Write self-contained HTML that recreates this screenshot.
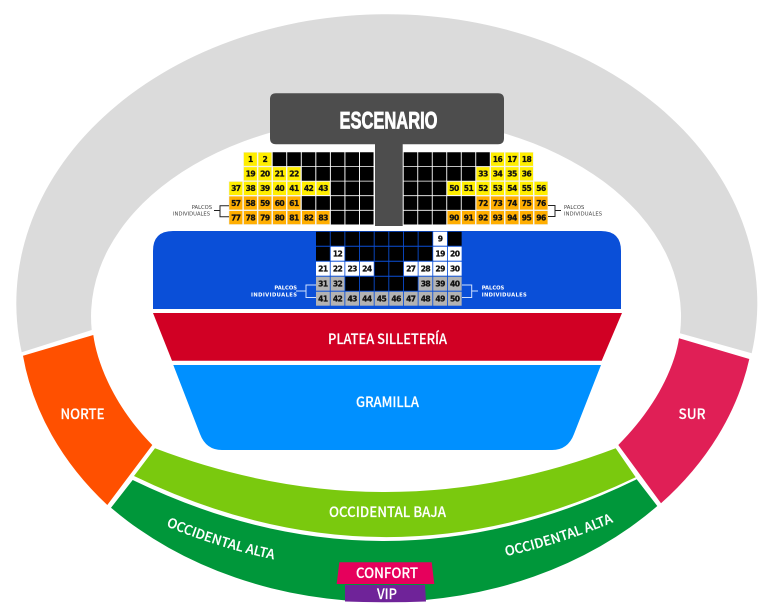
<!DOCTYPE html>
<html><head><meta charset="utf-8"><style>
html,body{margin:0;padding:0;background:#fff}
svg{display:block}
.n{font:bold 7.6px "DejaVu Sans",sans-serif;letter-spacing:-.55px;text-anchor:middle;fill:#111;stroke:#111;stroke-width:.25}
.l{font-family:"Noto Sans CJK JP","Liberation Sans",sans-serif;font-weight:500;fill:#fff;font-size:14px;stroke:#fff;stroke-width:.15}
.c{font-size:13.2px}
.p{font:5.2px "DejaVu Sans",sans-serif;fill:#444}
.w{font:bold 5.2px "DejaVu Sans",sans-serif;fill:#fff}
.y rect{fill:#ffee00;stroke:#eee;stroke-width:.5}
.o rect{fill:#ffae00;stroke:#eee;stroke-width:.5}
.g rect{fill:#b3b3b3}
.f rect{fill:#fff}
</style></head><body>
<svg width="768" height="613" viewBox="0 0 768 613" xmlns="http://www.w3.org/2000/svg">
<rect width="768" height="613" fill="#fff"/>
<path d="M21.7 352.3A370.5 289 0 1 1 751.7 353.3L680 333.3A295 200 0 1 0 91.7 330Z" fill="#dbdbdb"/>
<path d="M23 355.7L93.3 335C97 362 113 405 152.3 445L107.3 505A371 294 0 0 1 23 355.7Z" fill="#ff5000"/>
<path d="M679 338.3L749.3 359A371 294 0 0 1 661 503.3L618.3 445C658 405 675 365 679 338.3Z" fill="#e01f56"/>
<path d="M155 448.3L134 476Q385 597.5 635.7 477.3L615.7 448.3Q385 535.7 155 448.3Z" fill="#7ac90e"/>
<path d="M132.7 480L111 507.7A371 294 0 0 0 657.3 506L636.7 479.3Q385 602.3 132.7 480Z" fill="#00973a"/>
<path d="M339.3 562.3H431.7L434.3 584H336.7Z" fill="#e6005c"/>
<path d="M345 585H425L426 601.5Q385 603 345 601.5Z" fill="#6f2399"/>
<path d="M153 313H622L601.7 360.7H172Z" fill="#d10024"/>
<path d="M173.3 365H601L574 434Q568 450 552 450H222Q206 450 200 434Z" fill="#0090ff"/>
<path d="M153 251Q153 231 173 231H601Q621 231 621 251V309H153Z" fill="#0a4fd8"/>
<path d="M276 93.3H498Q504 93.3 504 99.3V138.3Q504 144.3 498 144.3H402.7V226H375V144.3H276Q270 144.3 270 138.3V99.3Q270 93.3 276 93.3Z" fill="#4d4d4d"/>
<text x="388.5" y="128.3" font-family="Liberation Sans,sans-serif" font-weight="bold" font-size="24.5" fill="#fff" stroke="#fff" stroke-width=".8" text-anchor="middle" textLength="98" lengthAdjust="spacingAndGlyphs">ESCENARIO</text>

<path fill="#000" d="M272.65 152.3h13.6v13.8h-13.6zM287.2 152.3h13.6v13.8h-13.6zM301.75 152.3h13.6v13.8h-13.6zM316.3 152.3h13.6v13.8h-13.6zM330.85 152.3h13.6v13.8h-13.6zM345.4 152.3h13.6v13.8h-13.6zM359.95 152.3h13.6v13.8h-13.6z
M301.75 166.9h13.6v13.8h-13.6zM316.3 166.9h13.6v13.8h-13.6zM330.85 166.9h13.6v13.8h-13.6zM345.4 166.9h13.6v13.8h-13.6zM359.95 166.9h13.6v13.8h-13.6z
M330.85 181.5h13.6v13.8h-13.6zM345.4 181.5h13.6v13.8h-13.6zM359.95 181.5h13.6v13.8h-13.6z
M301.75 196.1h13.6v13.8h-13.6zM316.3 196.1h13.6v13.8h-13.6zM330.85 196.1h13.6v13.8h-13.6zM345.4 196.1h13.6v13.8h-13.6zM359.95 196.1h13.6v13.8h-13.6z
M330.85 210.7h13.6v13.8h-13.6zM345.4 210.7h13.6v13.8h-13.6zM359.95 210.7h13.6v13.8h-13.6z
M403.7 152.3h13.6v13.8h-13.6zM418.2 152.3h13.6v13.8h-13.6zM432.7 152.3h13.6v13.8h-13.6zM447.2 152.3h13.6v13.8h-13.6zM461.7 152.3h13.6v13.8h-13.6zM476.2 152.3h13.6v13.8h-13.6z
M403.7 166.9h13.6v13.8h-13.6zM418.2 166.9h13.6v13.8h-13.6zM432.7 166.9h13.6v13.8h-13.6zM447.2 166.9h13.6v13.8h-13.6zM461.7 166.9h13.6v13.8h-13.6z
M403.7 181.5h13.6v13.8h-13.6zM418.2 181.5h13.6v13.8h-13.6zM432.7 181.5h13.6v13.8h-13.6z
M403.7 196.1h13.6v13.8h-13.6zM418.2 196.1h13.6v13.8h-13.6zM432.7 196.1h13.6v13.8h-13.6zM447.2 196.1h13.6v13.8h-13.6zM461.7 196.1h13.6v13.8h-13.6z
M403.7 210.7h13.6v13.8h-13.6zM418.2 210.7h13.6v13.8h-13.6zM432.7 210.7h13.6v13.8h-13.6z
M316 231.7h13.8v14h-13.8zM330.65 231.7h13.8v14h-13.8zM345.3 231.7h13.8v14h-13.8zM359.95 231.7h13.8v14h-13.8zM374.6 231.7h13.8v14h-13.8zM389.25 231.7h13.8v14h-13.8zM403.9 231.7h13.8v14h-13.8zM418.55 231.7h13.8v14h-13.8zM447.85 231.7h13.8v14h-13.8z
M316 246.7h13.8v14h-13.8zM345.3 246.7h13.8v14h-13.8zM359.95 246.7h13.8v14h-13.8zM374.6 246.7h13.8v14h-13.8zM389.25 246.7h13.8v14h-13.8zM403.9 246.7h13.8v14h-13.8zM418.55 246.7h13.8v14h-13.8z
M374.6 261.7h13.8v14h-13.8zM389.25 261.7h13.8v14h-13.8z
M345.3 276.7h13.8v14h-13.8zM359.95 276.7h13.8v14h-13.8zM374.6 276.7h13.8v14h-13.8zM389.25 276.7h13.8v14h-13.8zM403.9 276.7h13.8v14h-13.8z"/>

<g class="y">
<rect x="243.55" y="152.3" width="13.6" height="13.8"/><rect x="258.1" y="152.3" width="13.6" height="13.8"/>
<rect x="243.55" y="166.9" width="13.6" height="13.8"/><rect x="258.1" y="166.9" width="13.6" height="13.8"/><rect x="272.65" y="166.9" width="13.6" height="13.8"/><rect x="287.2" y="166.9" width="13.6" height="13.8"/>
<rect x="229" y="181.5" width="13.6" height="13.8"/><rect x="243.55" y="181.5" width="13.6" height="13.8"/><rect x="258.1" y="181.5" width="13.6" height="13.8"/><rect x="272.65" y="181.5" width="13.6" height="13.8"/><rect x="287.2" y="181.5" width="13.6" height="13.8"/><rect x="301.75" y="181.5" width="13.6" height="13.8"/><rect x="316.3" y="181.5" width="13.6" height="13.8"/>
<rect x="490.7" y="152.3" width="13.6" height="13.8"/><rect x="505.2" y="152.3" width="13.6" height="13.8"/><rect x="519.7" y="152.3" width="13.6" height="13.8"/>
<rect x="476.2" y="166.9" width="13.6" height="13.8"/><rect x="490.7" y="166.9" width="13.6" height="13.8"/><rect x="505.2" y="166.9" width="13.6" height="13.8"/><rect x="519.7" y="166.9" width="13.6" height="13.8"/>
<rect x="447.2" y="181.5" width="13.6" height="13.8"/><rect x="461.7" y="181.5" width="13.6" height="13.8"/><rect x="476.2" y="181.5" width="13.6" height="13.8"/><rect x="490.7" y="181.5" width="13.6" height="13.8"/><rect x="505.2" y="181.5" width="13.6" height="13.8"/><rect x="519.7" y="181.5" width="13.6" height="13.8"/><rect x="534.2" y="181.5" width="13.6" height="13.8"/>
</g>
<g class="o">
<rect x="229" y="196.1" width="13.6" height="13.8"/><rect x="243.55" y="196.1" width="13.6" height="13.8"/><rect x="258.1" y="196.1" width="13.6" height="13.8"/><rect x="272.65" y="196.1" width="13.6" height="13.8"/><rect x="287.2" y="196.1" width="13.6" height="13.8"/>
<rect x="229" y="210.7" width="13.6" height="13.8"/><rect x="243.55" y="210.7" width="13.6" height="13.8"/><rect x="258.1" y="210.7" width="13.6" height="13.8"/><rect x="272.65" y="210.7" width="13.6" height="13.8"/><rect x="287.2" y="210.7" width="13.6" height="13.8"/><rect x="301.75" y="210.7" width="13.6" height="13.8"/><rect x="316.3" y="210.7" width="13.6" height="13.8"/>
<rect x="476.2" y="196.1" width="13.6" height="13.8"/><rect x="490.7" y="196.1" width="13.6" height="13.8"/><rect x="505.2" y="196.1" width="13.6" height="13.8"/><rect x="519.7" y="196.1" width="13.6" height="13.8"/><rect x="534.2" y="196.1" width="13.6" height="13.8"/>
<rect x="447.2" y="210.7" width="13.6" height="13.8"/><rect x="461.7" y="210.7" width="13.6" height="13.8"/><rect x="476.2" y="210.7" width="13.6" height="13.8"/><rect x="490.7" y="210.7" width="13.6" height="13.8"/><rect x="505.2" y="210.7" width="13.6" height="13.8"/><rect x="519.7" y="210.7" width="13.6" height="13.8"/><rect x="534.2" y="210.7" width="13.6" height="13.8"/>
</g>
<g class="f">
<rect x="433.2" y="231.7" width="13.8" height="14"/>
<rect x="330.65" y="246.7" width="13.8" height="14"/><rect x="433.2" y="246.7" width="13.8" height="14"/><rect x="447.85" y="246.7" width="13.8" height="14"/>
<rect x="316" y="261.7" width="13.8" height="14"/><rect x="330.65" y="261.7" width="13.8" height="14"/><rect x="345.3" y="261.7" width="13.8" height="14"/><rect x="359.95" y="261.7" width="13.8" height="14"/><rect x="403.9" y="261.7" width="13.8" height="14"/><rect x="418.55" y="261.7" width="13.8" height="14"/><rect x="433.2" y="261.7" width="13.8" height="14"/><rect x="447.85" y="261.7" width="13.8" height="14"/>
</g>
<g class="g">
<rect x="316" y="276.7" width="13.8" height="14"/><rect x="330.65" y="276.7" width="13.8" height="14"/><rect x="418.55" y="276.7" width="13.8" height="14"/><rect x="433.2" y="276.7" width="13.8" height="14"/><rect x="447.85" y="276.7" width="13.8" height="14"/>
<rect x="316" y="291.7" width="13.8" height="14"/><rect x="330.65" y="291.7" width="13.8" height="14"/><rect x="345.3" y="291.7" width="13.8" height="14"/><rect x="359.95" y="291.7" width="13.8" height="14"/><rect x="374.6" y="291.7" width="13.8" height="14"/><rect x="389.25" y="291.7" width="13.8" height="14"/><rect x="403.9" y="291.7" width="13.8" height="14"/><rect x="418.55" y="291.7" width="13.8" height="14"/><rect x="433.2" y="291.7" width="13.8" height="14"/><rect x="447.85" y="291.7" width="13.8" height="14"/>
</g>

<g class="n">
<text x="250.35" y="162">1</text><text x="264.9" y="162">2</text><text x="497.5" y="162">16</text><text x="512" y="162">17</text><text x="526.5" y="162">18</text>
<text x="250.35" y="176.6">19</text><text x="264.9" y="176.6">20</text><text x="279.45" y="176.6">21</text><text x="294" y="176.6">22</text><text x="483" y="176.6">33</text><text x="497.5" y="176.6">34</text><text x="512" y="176.6">35</text><text x="526.5" y="176.6">36</text>
<text x="235.8" y="191.2">37</text><text x="250.35" y="191.2">38</text><text x="264.9" y="191.2">39</text><text x="279.45" y="191.2">40</text><text x="294" y="191.2">41</text><text x="308.55" y="191.2">42</text><text x="323.1" y="191.2">43</text><text x="454" y="191.2">50</text><text x="468.5" y="191.2">51</text><text x="483" y="191.2">52</text><text x="497.5" y="191.2">53</text><text x="512" y="191.2">54</text><text x="526.5" y="191.2">55</text><text x="541" y="191.2">56</text>
<text x="235.8" y="205.8">57</text><text x="250.35" y="205.8">58</text><text x="264.9" y="205.8">59</text><text x="279.45" y="205.8">60</text><text x="294" y="205.8">61</text><text x="483" y="205.8">72</text><text x="497.5" y="205.8">73</text><text x="512" y="205.8">74</text><text x="526.5" y="205.8">75</text><text x="541" y="205.8">76</text>
<text x="235.8" y="220.4">77</text><text x="250.35" y="220.4">78</text><text x="264.9" y="220.4">79</text><text x="279.45" y="220.4">80</text><text x="294" y="220.4">81</text><text x="308.55" y="220.4">82</text><text x="323.1" y="220.4">83</text><text x="454" y="220.4">90</text><text x="468.5" y="220.4">91</text><text x="483" y="220.4">92</text><text x="497.5" y="220.4">93</text><text x="512" y="220.4">94</text><text x="526.5" y="220.4">95</text><text x="541" y="220.4">96</text>
<text x="440.1" y="241.5">9</text>
<text x="337.55" y="256.5">12</text><text x="440.1" y="256.5">19</text><text x="454.75" y="256.5">20</text>
<text x="322.9" y="271.5">21</text><text x="337.55" y="271.5">22</text><text x="352.2" y="271.5">23</text><text x="366.85" y="271.5">24</text><text x="410.8" y="271.5">27</text><text x="425.45" y="271.5">28</text><text x="440.1" y="271.5">29</text><text x="454.75" y="271.5">30</text>
<text x="322.9" y="286.5">31</text><text x="337.55" y="286.5">32</text><text x="425.45" y="286.5">38</text><text x="440.1" y="286.5">39</text><text x="454.75" y="286.5">40</text>
<text x="322.9" y="301.5">41</text><text x="337.55" y="301.5">42</text><text x="352.2" y="301.5">43</text><text x="366.85" y="301.5">44</text><text x="381.5" y="301.5">45</text><text x="396.15" y="301.5">46</text><text x="410.8" y="301.5">47</text><text x="425.45" y="301.5">48</text><text x="440.1" y="301.5">49</text><text x="454.75" y="301.5">50</text>
</g>

<path d="M229 205.7H220V216.7H229M214 210.5H220M548 205.5H555V216.5H548M555 210.5H561" fill="none" stroke="#222" stroke-width="1"/>
<path d="M316 285H306V297.5H316M296 291H306M462 285H471.7V297.5H462M471.7 291H478" fill="none" stroke="#cfe0ff" stroke-width="1"/>
<text class="p" x="212" y="209" text-anchor="end">PALCOS</text>
<text class="p" x="210" y="215.5" text-anchor="end" textLength="37">INDIVIDUALES</text>
<text class="p" x="564" y="209">PALCOS</text>
<text class="p" x="564" y="215.5" textLength="38">INDIVIDUALES</text>
<text class="w" x="297" y="289.7" text-anchor="end">PALCOS</text>
<text class="w" x="297" y="296.7" text-anchor="end" textLength="46">INDIVIDUALES</text>
<text class="w" x="481.7" y="289.7">PALCOS</text>
<text class="w" x="481.7" y="296.7" textLength="45">INDIVIDUALES</text>

<text class="l" x="328" y="344" textLength="119" lengthAdjust="spacingAndGlyphs">PLATEA SILLETERÍA</text>
<text class="l" x="356" y="407" textLength="63" lengthAdjust="spacingAndGlyphs">GRAMILLA</text>
<text class="l" x="60.5" y="419" textLength="44" lengthAdjust="spacingAndGlyphs">NORTE</text>
<text class="l" x="678.5" y="419" textLength="27" lengthAdjust="spacingAndGlyphs">SUR</text>
<text class="l" x="329" y="517" textLength="117" lengthAdjust="spacingAndGlyphs">OCCIDENTAL BAJA</text>
<text class="l" x="356" y="578" textLength="62" lengthAdjust="spacingAndGlyphs">CONFORT</text>
<text class="l" x="377" y="599" textLength="20" lengthAdjust="spacingAndGlyphs">VIP</text>
<defs>
<path id="a1" d="M166 526Q218 548 277 560"/>
<path id="a2" d="M506 556Q562 544 618 520"/>
</defs>
<text class="l c"><textPath href="#a1">OCCIDENTAL ALTA</textPath></text>
<text class="l c"><textPath href="#a2">OCCIDENTAL ALTA</textPath></text>
</svg>
</body></html>
